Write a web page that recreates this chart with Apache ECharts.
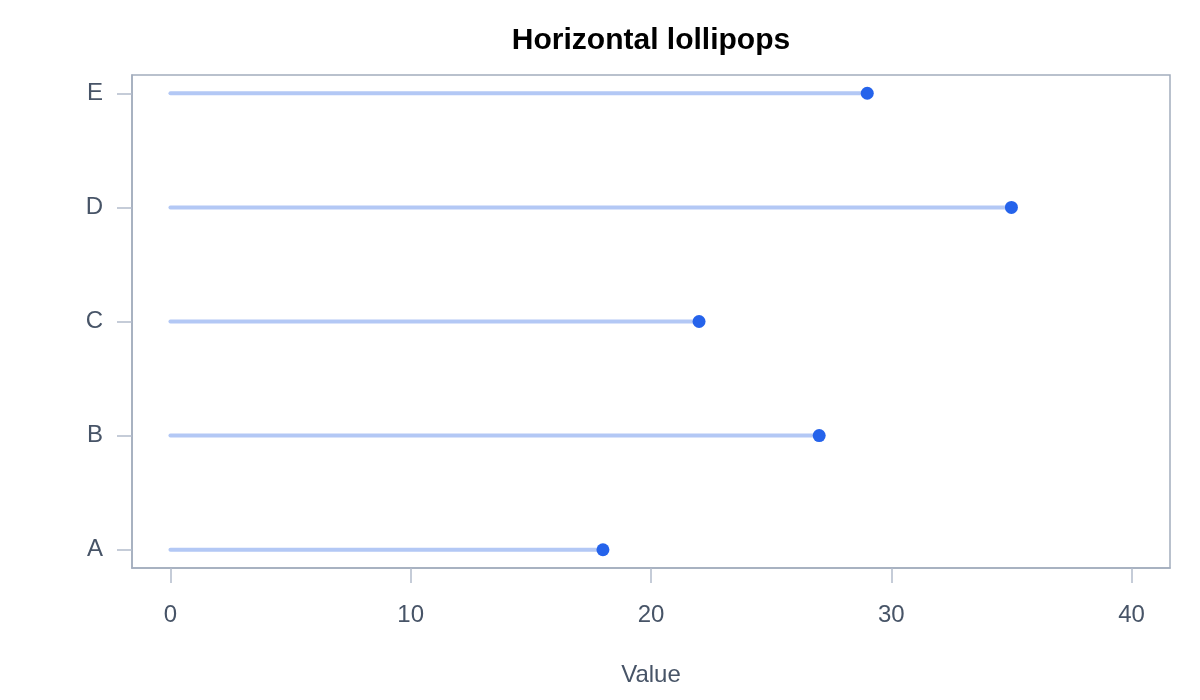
<!DOCTYPE html>
<html>
<head>
<meta charset="utf-8">
<script src="https://cdn.jsdelivr.net/npm/echarts@6/dist/echarts.min.js"></script>
<style>
html,body{margin:0;padding:0;background:#fff;}
#chart{width:1200px;height:700px;}
</style>
</head>
<body>
<div id="chart"></div>
<script>
const categories = ['A', 'B', 'C', 'D', 'E'];
const values = [18, 27, 22, 35, 29];
const xTicks = [0, 10, 20, 30, 40];
const yTicks = [1, 2, 3, 4, 5];

const points = values.map((v, i) => [v, i + 1]);

const FONT = '"Liberation Sans", Arial, Helvetica, sans-serif';
const labelColor = '#475467';
const frameColor = '#a3adbd';
const tickColor = '#b3bccb';

const chart = echarts.init(document.getElementById('chart'));
chart.setOption({
  animation: false,
  backgroundColor: '#ffffff',
  title: {
    text: 'Horizontal lollipops',
    left: 646,
    top: 21,
    textAlign: 'center',
    textStyle: { fontFamily: FONT, fontSize: 30, fontWeight: 'bold', color: '#000000' }
  },
  grid: {
    left: 132, right: 30, top: 75, bottom: 132,
    containLabel: false,
    show: true,
    borderColor: frameColor,
    borderWidth: 1.5,
    backgroundColor: 'transparent'
  },
  xAxis: {
    type: 'value',
    min: -1.6,
    max: 41.6,
    name: 'Value',
    nameLocation: 'middle',
    nameGap: 95,
    nameTextStyle: { fontFamily: FONT, fontSize: 24, color: labelColor },
    axisLine: { show: true, onZero: false, lineStyle: { color: frameColor, width: 1.5 } },
    axisTick: { show: true, inside: false, length: 15, customValues: xTicks, lineStyle: { color: tickColor, width: 1.5 } },
    axisLabel: { show: true, margin: 35, customValues: xTicks, fontFamily: FONT, fontSize: 24, color: labelColor },
    splitLine: { show: false }
  },
  yAxis: {
    type: 'value',
    min: 0.84,
    max: 5.16,
    axisLine: { show: true, onZero: false, lineStyle: { color: frameColor, width: 1.5 } },
    axisTick: { show: true, inside: false, length: 15, customValues: yTicks, lineStyle: { color: tickColor, width: 1.5 } },
    axisLabel: {
      show: true, margin: 29, customValues: yTicks,
      fontFamily: FONT, fontSize: 24, color: labelColor,
      padding: [4, 0, 0, 0],
      formatter: v => categories[Math.round(v) - 1] || ''
    },
    splitLine: { show: false }
  },
  series: [
    {
      type: 'custom',
      data: points,
      renderItem: function (params, api) {
        const v = api.value(0), y = api.value(1);
        const p0 = api.coord([0, y]);
        const p1 = api.coord([v, y]);
        return {
          type: 'line',
          shape: { x1: p0[0], y1: p0[1], x2: p1[0], y2: p1[1] },
          style: { stroke: '#b3c8f5', lineWidth: 4, lineCap: 'round' }
        };
      },
      z: 1
    },
    {
      type: 'scatter',
      data: points,
      symbol: 'circle',
      symbolSize: 13,
      itemStyle: { color: '#2563eb', opacity: 1 },
      z: 2
    }
  ]
});
</script>
</body>
</html>
